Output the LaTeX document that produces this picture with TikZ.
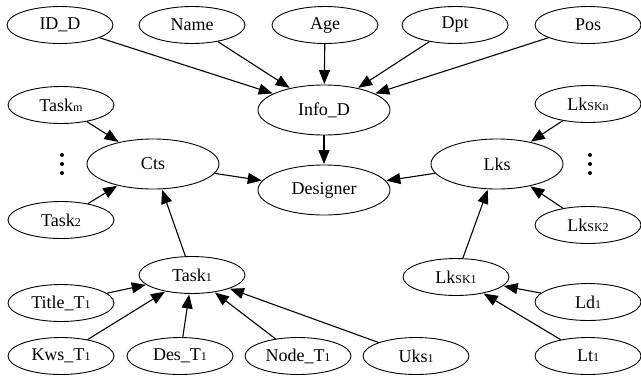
\documentclass[tikz,border=0pt]{standalone}
\usepackage{fontspec}
\setmainfont{Liberation Serif}
\newfontfamily\labelfont{Liberation Serif}
\usetikzlibrary{arrows.meta,shapes.geometric}

% small baseline index used in labels
\newcommand{\idx}[1]{{\fontsize{12bp}{12bp}\selectfont #1}}

\tikzset{
  every node/.style={font=\labelfont\fontsize{18bp}{20bp}\selectfont},
  leaf/.style={draw, ellipse, line width=0.9bp, inner sep=0pt,
               minimum width=106bp, minimum height=37bp},
  hub/.style={draw, ellipse, line width=0.9bp, inner sep=0pt,
              minimum width=132bp, minimum height=50bp},
  dotmark/.style={circle, fill, inner sep=0pt, minimum size=4bp},
  link/.style={draw, line width=1.1bp,
               -{Triangle[length=14bp,width=11bp]}, shorten >=0.5bp}
}

\begin{document}
\begin{tikzpicture}[x=1bp, y=-1bp]
\useasboundingbox (0,0) rectangle (641,378);

% top row of attributes
\node[leaf] (idd)  at (60,25)  {ID\_D};
\node[leaf] (name) at (192,25) {Name};
\node[leaf] (age)  at (325,25) {Age};
\node[leaf] (dpt)  at (455,25) {Dpt};
\node[leaf] (pos)  at (588,25) {Pos};

% central hubs
\node[hub] (info) at (324,110) {Info\_D};
\node[hub] (des)  at (324,190) {Designer};
\node[hub] (cts)  at (153,164) {Cts};
\node[hub] (lks)  at (497,164) {Lks};

% task branch
\node[leaf] (taskm) at (61,105) {Task\idx{m}};
\node[leaf] (task2) at (61,220) {Task\idx{2}};
\node[dotmark] (dl1) at (62,155) {};
\node[dotmark] (dl2) at (62,164) {};
\node[dotmark] (dl3) at (62,173) {};

% link branch
\node[leaf] (lkn) at (588,104) {Lk\idx{SKn}};
\node[leaf] (lk2) at (588,225) {Lk\idx{SK2}};
\node[dotmark] (dr1) at (590,155) {};
\node[dotmark] (dr2) at (590,164) {};
\node[dotmark] (dr3) at (590,173) {};

% first task and its fields
\node[leaf] (task1) at (192,275) {Task\idx{1}};
\node[leaf] (title) at (61,303)  {Title\_T\idx{1}};
\node[leaf] (kws)   at (61,356)  {Kws\_T\idx{1}};
\node[leaf] (dest)  at (180,356) {Des\_T\idx{1}};
\node[leaf] (nodet) at (298,356) {Node\_T\idx{1}};
\node[leaf] (uks)   at (416,356) {Uks\idx{1}};

% first link and its fields
\node[leaf] (lk1) at (456,277) {Lk\idx{SK1}};
\node[leaf] (ld)  at (588,302) {Ld\idx{1}};
\node[leaf] (lt)  at (588,356) {Lt\idx{1}};

% connectors
\foreach \s in {idd,name,age,dpt,pos} \path[link] (\s) -- (info);
\path[link] (info) -- (des);
\path[link] (cts) -- (des);
\path[link] (lks) -- (des);
\foreach \s in {taskm,task2,task1} \path[link] (\s) -- (cts);
\foreach \s in {lkn,lk2,lk1} \path[link] (\s) -- (lks);
\foreach \s in {title,kws,dest,nodet,uks} \path[link] (\s) -- (task1);
\foreach \s in {ld,lt} \path[link] (\s) -- (lk1);
\end{tikzpicture}
\end{document}
